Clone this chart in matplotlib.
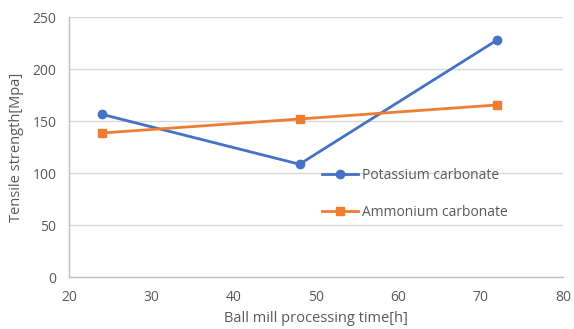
import matplotlib.pyplot as plt

# data
hours = [24, 48, 72]
potassium = [156.5, 108.5, 228]
ammonium = [138.5, 152, 165.5]
x_ticks = [20, 30, 40, 50, 60, 70, 80]
y_ticks = [0, 50, 100, 150, 200, 250]

BLUE = "#4472C4"
ORANGE = "#ED7D31"
GREY = "#595959"

plt.rcParams["font.family"] = ["Open Sans", "DejaVu Sans"]

fig = plt.figure(figsize=(5.74, 3.29), dpi=100)
ax = fig.add_axes([0.120, 0.158, 0.861, 0.790])

ax.plot(hours, potassium, color=BLUE, linewidth=2, marker="o", markersize=6,
        label="Potassium carbonate")
ax.plot(hours, ammonium, color=ORANGE, linewidth=2, marker="s", markersize=6,
        label="Ammonium carbonate")

ax.set_xlim(20, 80)
ax.set_ylim(0, 250)
ax.set_xticks(x_ticks)
ax.set_yticks(y_ticks)
ax.tick_params(length=0, labelsize=10, colors=GREY, pad=9)
ax.grid(axis="y", color="#d9d9d9", linewidth=1)
ax.set_axisbelow(True)
for s in ["top", "right"]:
    ax.spines[s].set_visible(False)
for s in ["left", "bottom"]:
    ax.spines[s].set_color("#bfbfbf")
    ax.spines[s].set_linewidth(1)

ax.set_xlabel("Ball mill processing time[h]", fontsize=10.5, color=GREY, labelpad=5)
ax.set_ylabel("Tensile strength[Mpa]", fontsize=10.5, color=GREY, labelpad=6)

ax.legend(loc="upper left", bbox_to_anchor=(0.5, 0.44), frameon=False,
          fontsize=10, labelcolor=GREY, labelspacing=1.55, handlelength=2.6,
          handletextpad=0.3, borderaxespad=0)

fig.savefig("out.png", dpi=100)
